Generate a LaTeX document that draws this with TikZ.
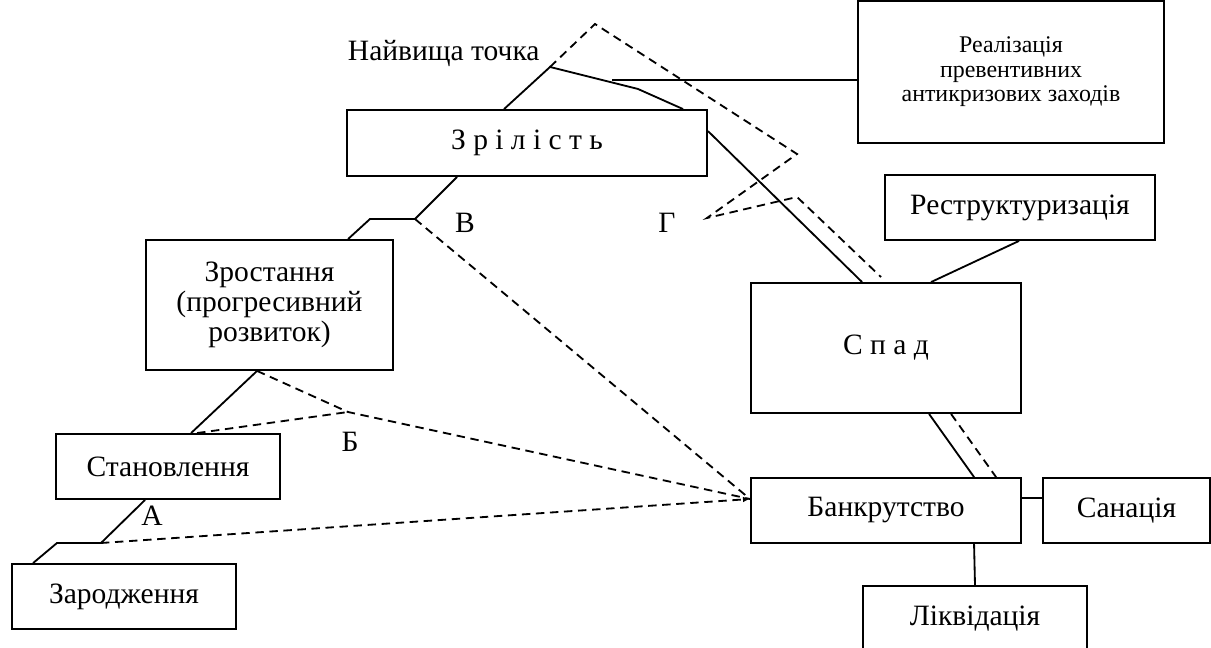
\documentclass[tikz,border=0pt]{standalone}
\usepackage{fontspec}
\setmainfont{Liberation Serif}
\usetikzlibrary{calc,arrows.meta}

\tikzset{
  etap/.style={draw, line width=1.3pt, inner sep=0pt, align=center,
    font=\fontsize{21}{21.5}\selectfont},
  zv/.style={line width=1.3pt},
  pun/.style={line width=1.3pt, dash pattern=on 6pt off 4pt},
  mitka/.style={font=\fontsize{21}{21.5}\selectfont}
}

\begin{document}
\begin{tikzpicture}[x=0.025cm,y=-0.025cm]
\useasboundingbox (0,0) rectangle (1211,648);

% Етапи
\node[etap, minimum width=5.6cm, minimum height=1.625cm] (zar) at (124,596.5) {Зародження};
\node[etap, minimum width=5.6cm, minimum height=1.625cm] (stan) at (168,466.5) {Становлення};
\node[etap, minimum width=6.175cm, minimum height=3.25cm] (zrost) at (269.5,305) {Зростання\\(прогресивний\\розвиток)};
\node[etap, minimum width=9cm, minimum height=1.65cm] (zril) at (527,143) {З р і л і с т ь};
\node[etap, minimum width=6.75cm, minimum height=3.25cm] (spad) at (886,348) {С п а д};
\node[etap, minimum width=6.75cm, minimum height=1.625cm] (bank) at (886,510.5) {Банкрутство};

% Заходи
\node[etap, minimum width=7.65cm, minimum height=3.55cm,
  font=\fontsize{17}{17.5}\selectfont] (real) at (1011,72) {Реалізація\\превентивних\\антикризових заходів};
\node[etap, minimum width=6.75cm, minimum height=1.625cm] (restr) at (1020,207.5) {Реструктуризація};
\node[etap, minimum width=4.175cm, minimum height=1.625cm] (san) at (1126.5,510.5) {Санація};
\node[etap, minimum width=5.6cm, minimum height=1.625cm] (likv) at (975,618.5) {Ліквідація};

% Точки
\coordinate (a) at (101,543);
\coordinate (b) at (348,412);
\coordinate (v) at (415,219);
\coordinate (pik) at (550,67);
\coordinate (g) at (707,218);
\coordinate (bin) at (750,499);

\node[mitka] (la) at (152,516) {А};
\node[mitka] (lb) at (350,442) {Б};
\node[mitka] (lv) at (465,223) {В};
\node[mitka] (lg) at (667,223) {Г};
\node[mitka, anchor=base west] (pikt) at (343,61) {Найвища точка};

% Життєвий цикл
\draw[zv] ($(zar.north west)+(22,0)$) -- (57,543) -- (a) -- ($(stan.south west)+(90,0)$);
\draw[zv] ($(stan.north west)+(136,0)$) -- ($(zrost.south west)+(112,0)$);
\draw[zv] ($(zrost.north west)+(203,0)$) -- (370,219) -- (v) -- ($(zril.south west)+(111,0)$);
\draw[zv] ($(zril.north west)+(158,0)$) -- (pik) -- (638,89) -- ($(zril.north west)+(337,0)$);
\draw[zv] (612,80) coordinate (vid) -- (vid -| real.west);
\draw[zv] ($(zril.north east)+(0,22)$) -- ($(spad.north west)+(112,0)$);
\draw[zv] ($(restr.south west)+(135,0)$) -- ($(spad.north west)+(181,0)$);
\draw[zv] ($(spad.south west)+(179,0)$) -- ($(bank.north west)+(224,0)$);
\draw[zv] ($(bank.north east)+(0,21)$) coordinate (bs) -- (bs -| san.west);
\draw[zv] ($(bank.south west)+(224,0)$) -- (likv.north);

% Шлях до банкрутства
\draw[pun,-{Latex[length=5pt,width=4pt]}] (a) -- (bin);
\draw[pun] ($(zrost.south west)+(112,0)$) -- (b) -- (bin);
\draw[pun] ($(stan.north west)+(142,0)$) -- (b);
\draw[pun] (v) -- (bin);
\draw[pun] (pik) -- (595,24) -- (797,154) -- (g) -- (797,197) -- ($(spad.north west)+(131,-5)$);
\draw[pun] ($(spad.south west)+(201,0)$) -- ($(bank.north west)+(246,0)$);

\end{tikzpicture}
\end{document}
